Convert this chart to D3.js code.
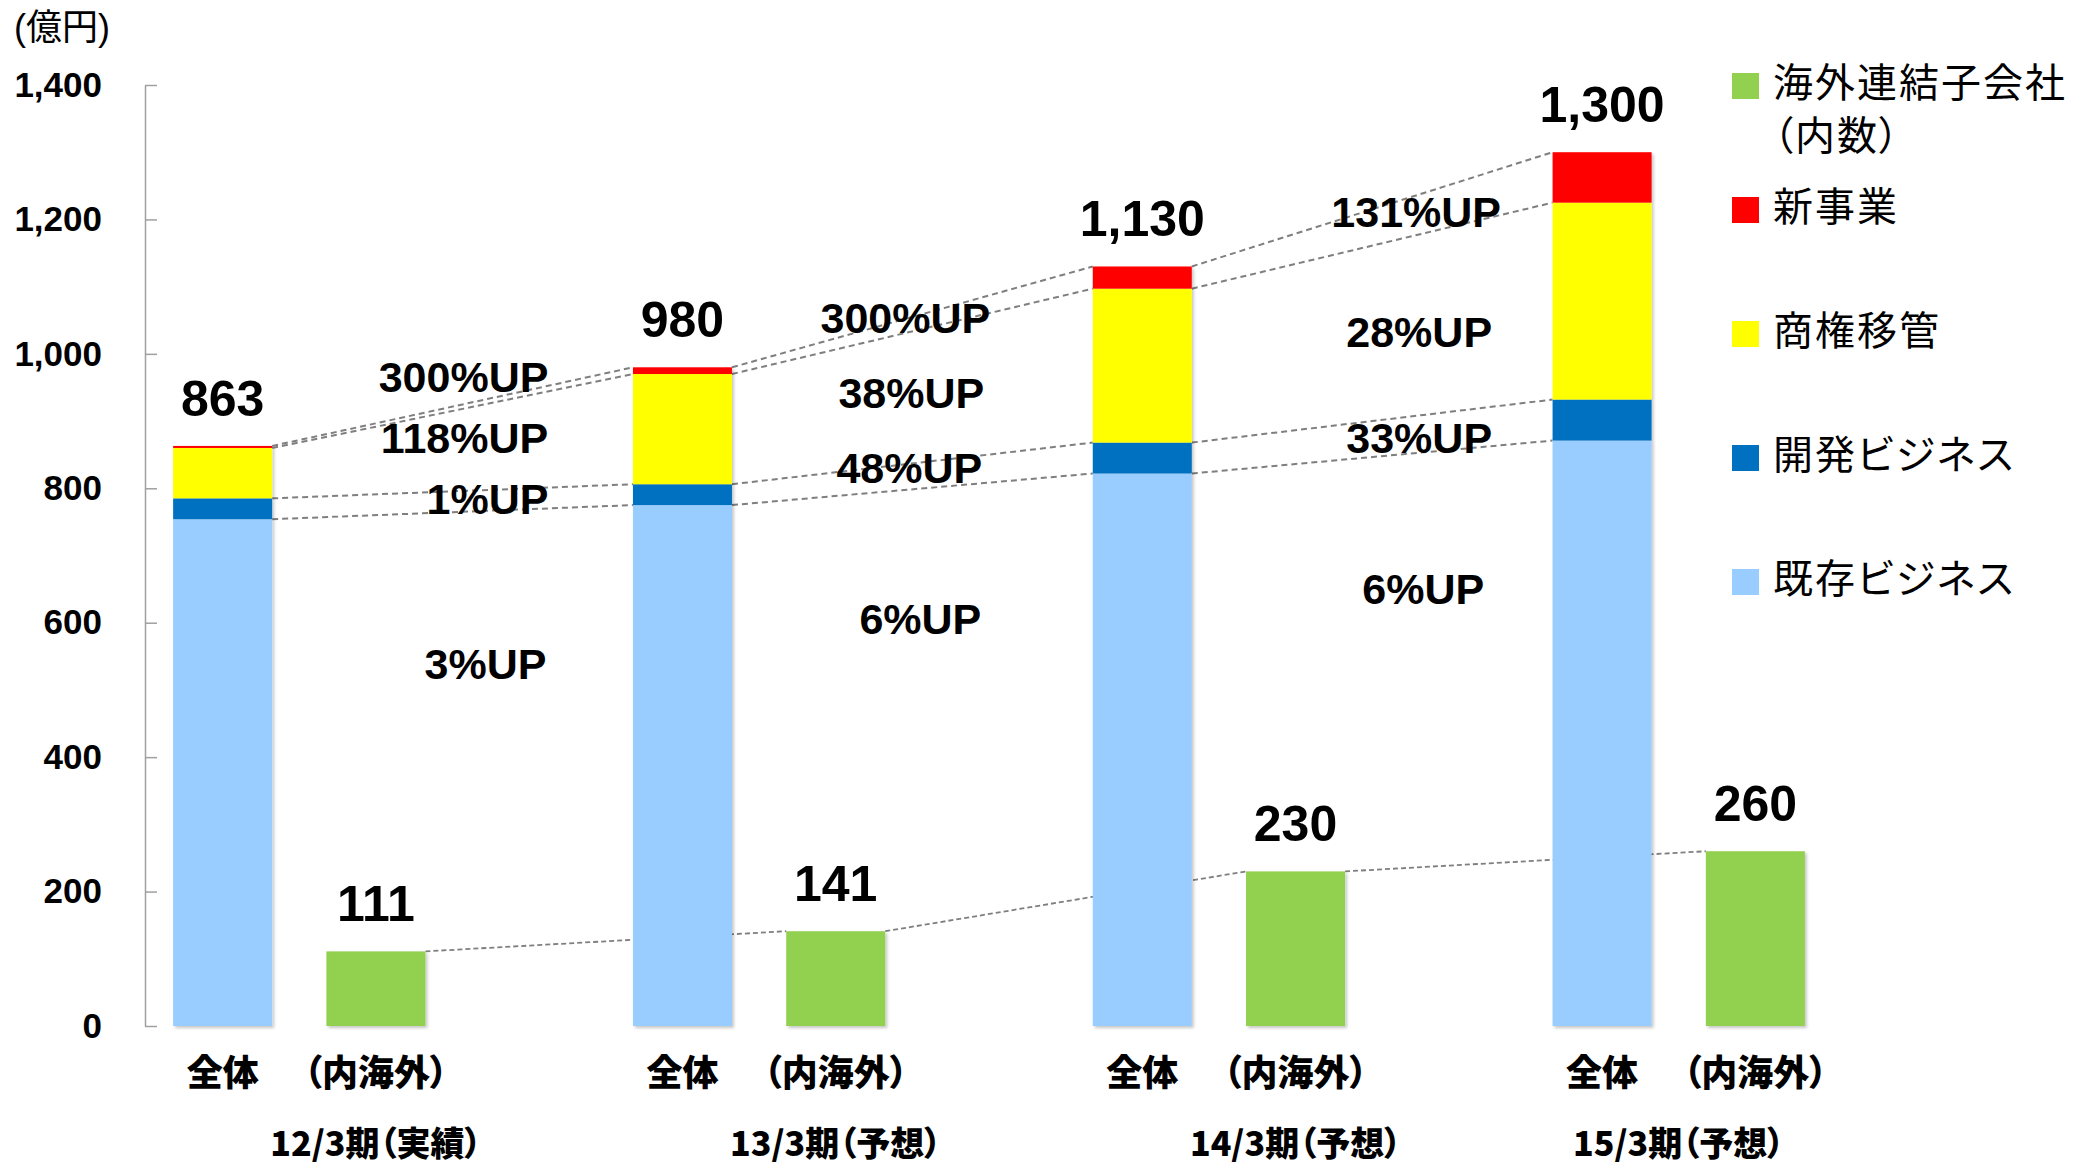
<!DOCTYPE html>
<html>
<head>
<meta charset="utf-8">
<script src="https://cdn.jsdelivr.net/npm/d3@7"></script>
<style>
body { margin: 0; background: #fff; }
text { font-family: "Liberation Sans", Arial, "Noto Sans CJK JP", sans-serif; fill: #000; }
.jp { font-family: "Noto Sans CJK JP", sans-serif; font-feature-settings: "palt"; }
</style>
</head>
<body>
<script>
// periods (one group of two bars each)
var periods = ['12/3期（実績）', '13/3期（予想）', '14/3期（予想）', '15/3期（予想）'];
var barNames = ['全体', '（内海外）'];

// stacked segments of the 全体 bar (億円)
var existing    = [754, 775, 822, 871];   // 既存ビジネス
var development = [31, 31, 46, 61];       // 開発ビジネス
var transfer    = [75, 164, 229, 293];    // 商権移管
var newBiz      = [3, 10, 33, 75];        // 新事業
var totals      = [863, 980, 1130, 1300];

// 海外連結子会社（内数）
var overseas = [111, 141, 230, 260];

var yTicks = [0, 200, 400, 600, 800, 1000, 1200, 1400];

// growth labels between consecutive 全体 bars (top to bottom)
var growthLabels = [
    ['300%UP', '118%UP', '1%UP', '3%UP'],
    ['300%UP', '38%UP', '48%UP', '6%UP'],
    ['131%UP', '28%UP', '33%UP', '6%UP']
];

// where those labels sit: value on the y axis, and x shift from the middle of the gap
var growthPos = [
    [{v: 966, dx: 11}, {v: 875, dx: 12}, {v: 784, dx: 35}, {v: 539, dx: 33}],
    [{v: 1053, dx: -7}, {v: 942, dx: -1}, {v: 830, dx: -3}, {v: 606, dx: 8}],
    [{v: 1211, dx: 44}, {v: 1033, dx: 47}, {v: 875, dx: 47}, {v: 650, dx: 51}]
];

var keys = ['existing', 'development', 'transfer', 'newBiz'];
var colors = {
    existing: '#99CCFF',
    development: '#0070C0',
    transfer: '#FFFF00',
    newBiz: '#FF0000',
    overseas: '#92D050'
};

// legend (top to bottom)
var legendItems = [
    {key: 'overseas', lines: ['海外連結子会社', '（内数）']},
    {key: 'newBiz', lines: ['新事業']},
    {key: 'transfer', lines: ['商権移管']},
    {key: 'development', lines: ['開発ビジネス']},
    {key: 'existing', lines: ['既存ビジネス']}
];

var W = 2075, H = 1167;

var svg = d3.select('body').append('svg')
    .attr('width', W)
    .attr('height', H);

// soft shadow like the office chart bars
var defs = svg.append('defs');
defs.append('filter')
    .attr('id', 'shadow')
    .attr('x', '-10%').attr('y', '-10%')
    .attr('width', '130%').attr('height', '130%')
    .append('feDropShadow')
    .attr('dx', 2).attr('dy', 2)
    .attr('stdDeviation', 1.5)
    .attr('flood-color', '#000')
    .attr('flood-opacity', 0.22);

// 11 slots: 全体, 内海外, (blank) per period
var x = d3.scaleBand()
    .domain(d3.range(11))
    .range([146, 1832])
    .paddingInner(0.354)
    .paddingOuter(0.177);

var y = d3.scaleLinear()
    .domain([0, 1400])
    .range([1026, 85]);

var bw = x.bandwidth();

// build table for the stack
var table = periods.map(function(p, i) {
    return {
        period: p,
        existing: existing[i],
        development: development[i],
        transfer: transfer[i],
        newBiz: newBiz[i]
    };
});
var stacked = d3.stack().keys(keys)(table);

// y axis (ticks pointing inside)
var yAxis = d3.axisLeft(y)
    .tickValues(yTicks)
    .tickFormat(d3.format(','))
    .tickSizeInner(-12)
    .tickSizeOuter(0)
    .tickPadding(43);

var axisG = svg.append('g')
    .attr('transform', 'translate(145,0)')
    .call(yAxis);
axisG.select('.domain').attr('stroke', '#a0a0a0').attr('stroke-width', 1.5);
axisG.selectAll('.tick line').attr('stroke', '#a0a0a0').attr('stroke-width', 1.5);
axisG.selectAll('.tick text')
    .attr('fill', '#000')
    .style('font-family', '"Liberation Sans", Arial, sans-serif')
    .style('font-size', '35px')
    .style('font-weight', 'bold');

// unit
svg.append('text')
    .attr('x', 14)
    .attr('y', 40)
    .style('font-family', '"Liberation Sans", "Noto Sans CJK JP", sans-serif')
    .style('font-size', '36px')
    .text('(億円)');

// dashed lines joining the stack boundaries
var lineG = svg.append('g');
stacked.forEach(function(layer) {
    for (var i = 0; i < periods.length - 1; i++) {
        lineG.append('line')
            .attr('x1', x(i * 3) + bw)
            .attr('y1', y(layer[i][1]))
            .attr('x2', x((i + 1) * 3))
            .attr('y2', y(layer[i + 1][1]))
            .attr('stroke', '#7f7f7f')
            .attr('stroke-width', 2)
            .attr('stroke-dasharray', '6,4');
    }
});
// dashed line joining the overseas bars
for (var i = 0; i < overseas.length - 1; i++) {
    lineG.append('line')
        .attr('x1', x(i * 3 + 1) + bw)
        .attr('y1', y(overseas[i]))
        .attr('x2', x((i + 1) * 3 + 1))
        .attr('y2', y(overseas[i + 1]))
        .attr('stroke', '#7f7f7f')
        .attr('stroke-width', 1.8)
        .attr('stroke-dasharray', '5,3');
}

// stacked bars
var barsG = svg.append('g').attr('filter', 'url(#shadow)');
barsG.selectAll('g.layer')
    .data(stacked)
    .enter().append('g')
    .attr('class', 'layer')
    .attr('fill', function(d) { return colors[d.key]; })
    .selectAll('rect')
    .data(function(d) { return d; })
    .enter().append('rect')
    .attr('x', function(d, i) { return x(i * 3); })
    .attr('y', function(d) { return y(d[1]); })
    .attr('width', bw)
    .attr('height', function(d) { return y(d[0]) - y(d[1]); });

// overseas bars
barsG.selectAll('rect.overseas')
    .data(overseas)
    .enter().append('rect')
    .attr('class', 'overseas')
    .attr('fill', colors.overseas)
    .attr('x', function(d, i) { return x(i * 3 + 1); })
    .attr('y', function(d) { return y(d); })
    .attr('width', bw)
    .attr('height', function(d) { return y(0) - y(d); });

// value labels
svg.selectAll('text.total')
    .data(totals)
    .enter().append('text')
    .attr('class', 'total')
    .attr('x', function(d, i) { return x(i * 3) + bw / 2; })
    .attr('y', function(d) { return y(d) - 30; })
    .attr('text-anchor', 'middle')
    .style('font-size', '50px')
    .style('font-weight', 'bold')
    .text(d3.format(','));

svg.selectAll('text.ovl')
    .data(overseas)
    .enter().append('text')
    .attr('class', 'ovl')
    .attr('x', function(d, i) { return x(i * 3 + 1) + bw / 2; })
    .attr('y', function(d) { return y(d) - 30; })
    .attr('text-anchor', 'middle')
    .style('font-size', '50px')
    .style('font-weight', 'bold')
    .text(d3.format(','));

// growth labels
growthLabels.forEach(function(labels, g) {
    var mid = (x(g * 3) + bw + x((g + 1) * 3)) / 2;
    labels.forEach(function(t, k) {
        svg.append('text')
            .attr('x', mid + growthPos[g][k].dx)
            .attr('y', y(growthPos[g][k].v))
            .attr('dy', '0.35em')
            .attr('text-anchor', 'middle')
            .style('font-size', '43px')
            .style('font-weight', 'bold')
            .text(t);
    });
});

// category labels under the bars
periods.forEach(function(p, i) {
    barNames.forEach(function(n, j) {
        svg.append('text')
            .attr('class', 'jp')
            .attr('x', x(i * 3 + j) + bw / 2)
            .attr('y', 1086)
            .attr('text-anchor', 'middle')
            .style('font-size', '36px')
            .style('font-weight', '900')
            .text(n);
    });
});

// period labels (last one sits between its two bars)
var periodShift = [0, 0, 0, -0.5];
periods.forEach(function(p, i) {
    var cx = x(i * 3 + 1) + bw / 2 + periodShift[i] * x.step();
    svg.append('text')
        .attr('class', 'jp')
        .attr('x', cx)
        .attr('y', 1156)
        .attr('text-anchor', 'middle')
        .style('font-size', '34px')
        .style('font-weight', '900')
        .text(p);
});

// legend
var legend = svg.append('g').attr('transform', 'translate(1732,0)');
legendItems.forEach(function(item, i) {
    var cy = 86 + i * 124;
    legend.append('rect')
        .attr('x', 0)
        .attr('y', cy - 13)
        .attr('width', 27)
        .attr('height', 26)
        .attr('fill', colors[item.key]);
    item.lines.forEach(function(line, k) {
        legend.append('text')
            .attr('class', 'jp')
            .attr('x', 41)
            .attr('y', cy - 3 + k * 53)
            .attr('dy', '0.36em')
            .style('font-size', '40px')
            .style('letter-spacing', '2px')
            .text(line);
    });
});
</script>
</body>
</html>
